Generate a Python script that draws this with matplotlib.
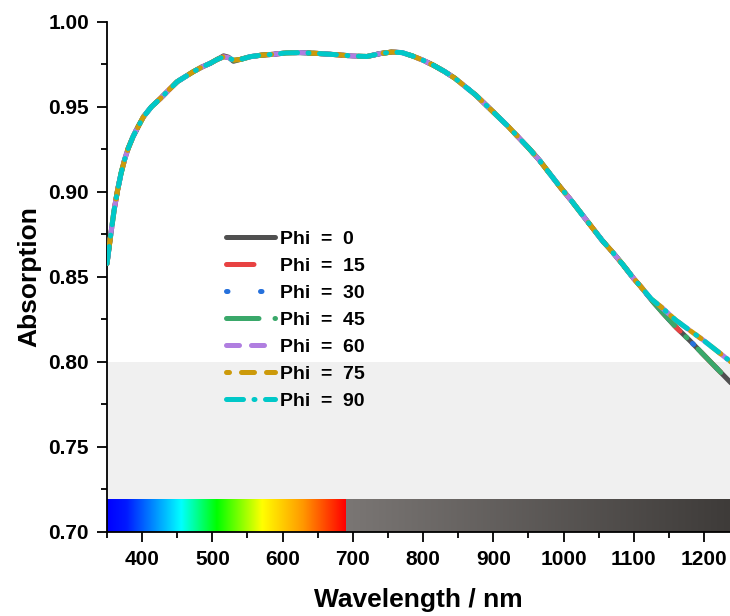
import numpy as np
import matplotlib
matplotlib.use("Agg")
import matplotlib.pyplot as plt
from matplotlib.colors import LinearSegmentedColormap

plt.rcParams['font.family'] = ['Liberation Sans', 'DejaVu Sans']
plt.rcParams['font.weight'] = 'bold'

# shared wavelength grid (nm)
wavelength = [350, 355, 360, 365, 370, 375, 380, 387, 395, 402, 413, 426, 438,
              450, 462, 473, 485, 497, 507, 516, 523, 530, 540, 554, 570, 587,
              605, 625, 650, 675, 700, 720, 740, 755, 770, 785, 800, 815, 830,
              845, 860, 875, 890, 905, 920, 935, 950, 965, 980, 995, 1010,
              1025, 1040, 1055, 1070, 1085, 1100, 1110, 1125, 1140, 1160, 1180,
              1200, 1220, 1240]

# absorption common to every angle (350-1110 nm)
abs_main = [0.858, 0.874, 0.889, 0.901, 0.911, 0.919, 0.9255, 0.9325, 0.939,
            0.9443, 0.950, 0.955, 0.960, 0.9649, 0.968, 0.9708, 0.9735, 0.9757,
            0.978, 0.9795, 0.979, 0.9775, 0.978, 0.9796, 0.9805, 0.981, 0.9818,
            0.982, 0.9815, 0.9808, 0.980, 0.9797, 0.9815, 0.9823, 0.982, 0.980,
            0.9775, 0.9745, 0.971, 0.967, 0.962, 0.957, 0.951, 0.945, 0.939,
            0.9325, 0.926, 0.919, 0.911, 0.903, 0.8955, 0.8875, 0.8795, 0.8715,
            0.8645, 0.857, 0.849, 0.8443]

# tails (1125-1240 nm): Phi 0-45 fall lower than Phi 60-90
tail_low = [0.8365, 0.8295, 0.8205, 0.8125, 0.804, 0.7955, 0.787]
tail_high = [0.837, 0.832, 0.8245, 0.8185, 0.8125, 0.806, 0.7995]

# Phi = 0 has a small kink near 520 nm
kink_phi0 = [0.9801, 0.9793, 0.9769]

abs_phi0 = abs_main[:19] + kink_phi0 + abs_main[22:] + tail_low
abs_low = abs_main + tail_low
abs_high = abs_main + tail_high

labels = ["Phi  =  0", "Phi  =  15", "Phi  =  30", "Phi  =  45",
          "Phi  =  60", "Phi  =  75", "Phi  =  90"]
series = [abs_phi0, abs_low, abs_low, abs_low, abs_high, abs_high, abs_high]
colors = ["#505050", "#e84242", "#2671dc", "#3aa86a", "#b07ee0", "#cc9a0a", "#00c8c8"]
styles = ["-", (0, (5.5, 6)), (0, (0.3, 6.5)), (0, (6.5, 3.2, 0.3, 3.2)),
          (0, (2.6, 2.4)), (2, (2.6, 2.4)), (0, (3.4, 2.1, 0.2, 2.1))]

fig = plt.figure(figsize=(7.30, 6.16), dpi=100)
ax = fig.add_axes([0.1466, 0.1364, 0.8534, 0.8279])

xmin, xmax = 350, 1237
ax.set_xlim(xmin, xmax)
ax.set_ylim(0.70, 1.00)

# light gray band and spectrum bar
ax.axhspan(0.719, 0.80, color="#f0f0f0", zorder=0, lw=0)
spec = LinearSegmentedColormap.from_list("spec", [
    (0.0, (0, 0, 1)), (0.08, (0, 0.1, 1)), (0.31, (0, 1, 1)), (0.46, (0, 1, 0)),
    (0.65, (1, 1, 0)), (0.82, (1, 0.6, 0)), (1.0, (1, 0, 0))])
grey = LinearSegmentedColormap.from_list("grey", ["#7a7674", "#3e3b39"])
ramp = np.linspace(0, 1, 256).reshape(1, -1)
ax.imshow(ramp, cmap=spec, aspect="auto", extent=(xmin, 690, 0.70, 0.719), zorder=1)
ax.imshow(ramp, cmap=grey, aspect="auto", extent=(690, xmax, 0.70, 0.719), zorder=1)

for y, lab, c, ls in zip(series, labels, colors, styles):
    ax.plot(wavelength, y, color=c, linestyle=ls, lw=3.6, label=lab,
            dash_capstyle="round", solid_capstyle="round",
            solid_joinstyle="round", zorder=3)

ax.set_xticks(range(400, 1201, 100))
ax.set_xticks(range(350, 1237, 50), minor=True)
ax.set_yticks(np.arange(0.70, 1.001, 0.05))
ax.set_yticks(np.arange(0.70, 1.001, 0.025), minor=True)
ax.set_yticklabels([f"{v:.2f}" for v in np.arange(0.70, 1.001, 0.05)])

for s in ["top", "right"]:
    ax.spines[s].set_visible(False)
for s in ["left", "bottom"]:
    ax.spines[s].set_linewidth(1.3)
ax.tick_params(which="major", direction="out", length=7, width=1.3, labelsize=15, pad=6)
ax.tick_params(which="minor", direction="out", length=4, width=1.3)

ax.set_xlabel("Wavelength / nm", fontsize=19, fontweight="bold", labelpad=14)
ax.set_ylabel("Absorption", fontsize=19, fontweight="bold", labelpad=5)

leg = ax.legend(loc="upper left", bbox_to_anchor=(0.1625, 0.626), frameon=False,
                fontsize=14, handlelength=2.55, handletextpad=0.26,
                labelspacing=0.48)
for t in leg.get_texts():
    t.set_fontweight("bold")

fig.savefig("out.png", dpi=100)
